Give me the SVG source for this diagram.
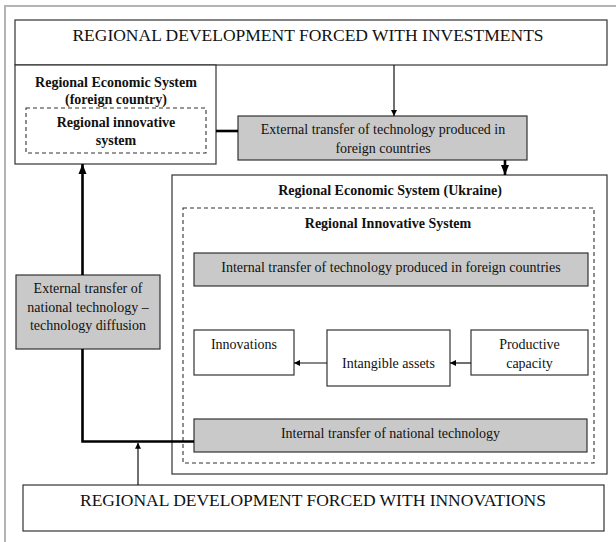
<svg xmlns="http://www.w3.org/2000/svg" width="616" height="542" viewBox="0 0 616 542">
<style>
text{font-family:"Liberation Serif","Times New Roman",serif;fill:#111;text-anchor:middle}
.big{font-size:17.5px}
.t{font-size:14px}
.b{font-size:14px;font-weight:bold}
.box{fill:#fff;stroke:#333;stroke-width:1.2}
.gray{fill:#c9c9c9;stroke:#333;stroke-width:1.2}
.dash{fill:none;stroke:#333;stroke-width:1.1;stroke-dasharray:4 3}
.thin{fill:none;stroke:#111;stroke-width:1.2}
.thick{fill:none;stroke:#000;stroke-width:2.6}
</style>
<defs>
<marker id="ah" viewBox="0 0 10 10" refX="10" refY="5" markerWidth="6" markerHeight="6" markerUnits="userSpaceOnUse" orient="auto"><path d="M0,0 L10,5 L0,10 z" fill="#000"/></marker>
<marker id="ahb" viewBox="0 0 10 10" refX="10" refY="5" markerWidth="4" markerHeight="4" markerUnits="strokeWidth" orient="auto"><path d="M0,1 L10,5 L0,9 z" fill="#000"/></marker>
</defs>
<rect x="5" y="6" width="640" height="600" fill="none" stroke="#b4b4b4" stroke-width="2"/>
<g id="top-investments">
<rect class="box" x="15" y="20" width="592" height="45"/>
<text class="big" x="308" y="41">REGIONAL DEVELOPMENT FORCED WITH INVESTMENTS</text>
</g>
<g id="res-foreign">
<rect class="box" x="15" y="65" width="201" height="99"/>
<text class="b" x="116" y="87">Regional Economic System</text>
<text class="b" x="116" y="104">(foreign country)</text>
</g>
<g id="ris-foreign">
<rect class="dash" x="26" y="108" width="180" height="45"/>
<text class="b" x="116" y="127">Regional innovative</text>
<text class="b" x="116" y="145">system</text>
</g>
<g id="external-foreign">
<rect class="gray" x="238" y="116" width="289" height="44"/>
<text class="t" x="383" y="134">External transfer of technology produced in</text>
<text class="t" x="383" y="153">foreign countries</text>
</g>
<g id="res-ukraine">
<rect class="box" x="172" y="175" width="435" height="299"/>
<text class="b" x="390" y="195">Regional Economic System (Ukraine)</text>
</g>
<g id="ris-ukraine">
<rect class="dash" x="183" y="208" width="411" height="255"/>
<text class="b" x="388" y="228">Regional Innovative System</text>
</g>
<g id="internal-foreign">
<rect class="gray" x="194" y="253" width="394" height="33"/>
<text class="t" x="391" y="272">Internal transfer of technology produced in foreign countries</text>
</g>
<g id="external-national">
<rect class="gray" x="16" y="275" width="144" height="74"/>
<text class="t" x="88" y="293">External transfer of</text>
<text class="t" x="88" y="312">national technology –</text>
<text class="t" x="88" y="330">technology diffusion</text>
</g>
<g id="innovations">
<rect class="box" x="194" y="330" width="100" height="45"/>
<text class="t" x="244" y="349">Innovations</text>
</g>
<g id="intangible">
<rect class="box" x="327" y="330" width="123" height="56"/>
<text class="t" x="388.5" y="368">Intangible assets</text>
</g>
<g id="productive">
<rect class="box" x="471" y="330" width="117" height="45"/>
<text class="t" x="529.5" y="349">Productive</text>
<text class="t" x="529.5" y="368">capacity</text>
</g>
<g id="internal-national">
<rect class="gray" x="194" y="419" width="393" height="33"/>
<text class="t" x="390.5" y="438">Internal transfer of national technology</text>
</g>
<g id="bottom-innovations">
<rect class="box" x="23" y="485" width="581" height="46"/>
<text class="big" x="313" y="506">REGIONAL DEVELOPMENT FORCED WITH INNOVATIONS</text>
</g>
<g id="connectors">
<path class="thin" d="M394,65 V116" marker-end="url(#ah)"/>
<path class="thick" d="M216,131 H238"/>
<path class="thick" d="M505,160 V175" marker-end="url(#ahb)"/>
<path class="thin" d="M471,363 H450" marker-end="url(#ah)"/>
<path class="thin" d="M327,363 H294" marker-end="url(#ah)"/>
<path class="thick" d="M194,441.5 H82.5 V349"/>
<path class="thick" d="M82.5,275 V164" marker-end="url(#ahb)"/>
<path class="thin" d="M138,485 V442.8" marker-end="url(#ah)"/>
</g>
</svg>
